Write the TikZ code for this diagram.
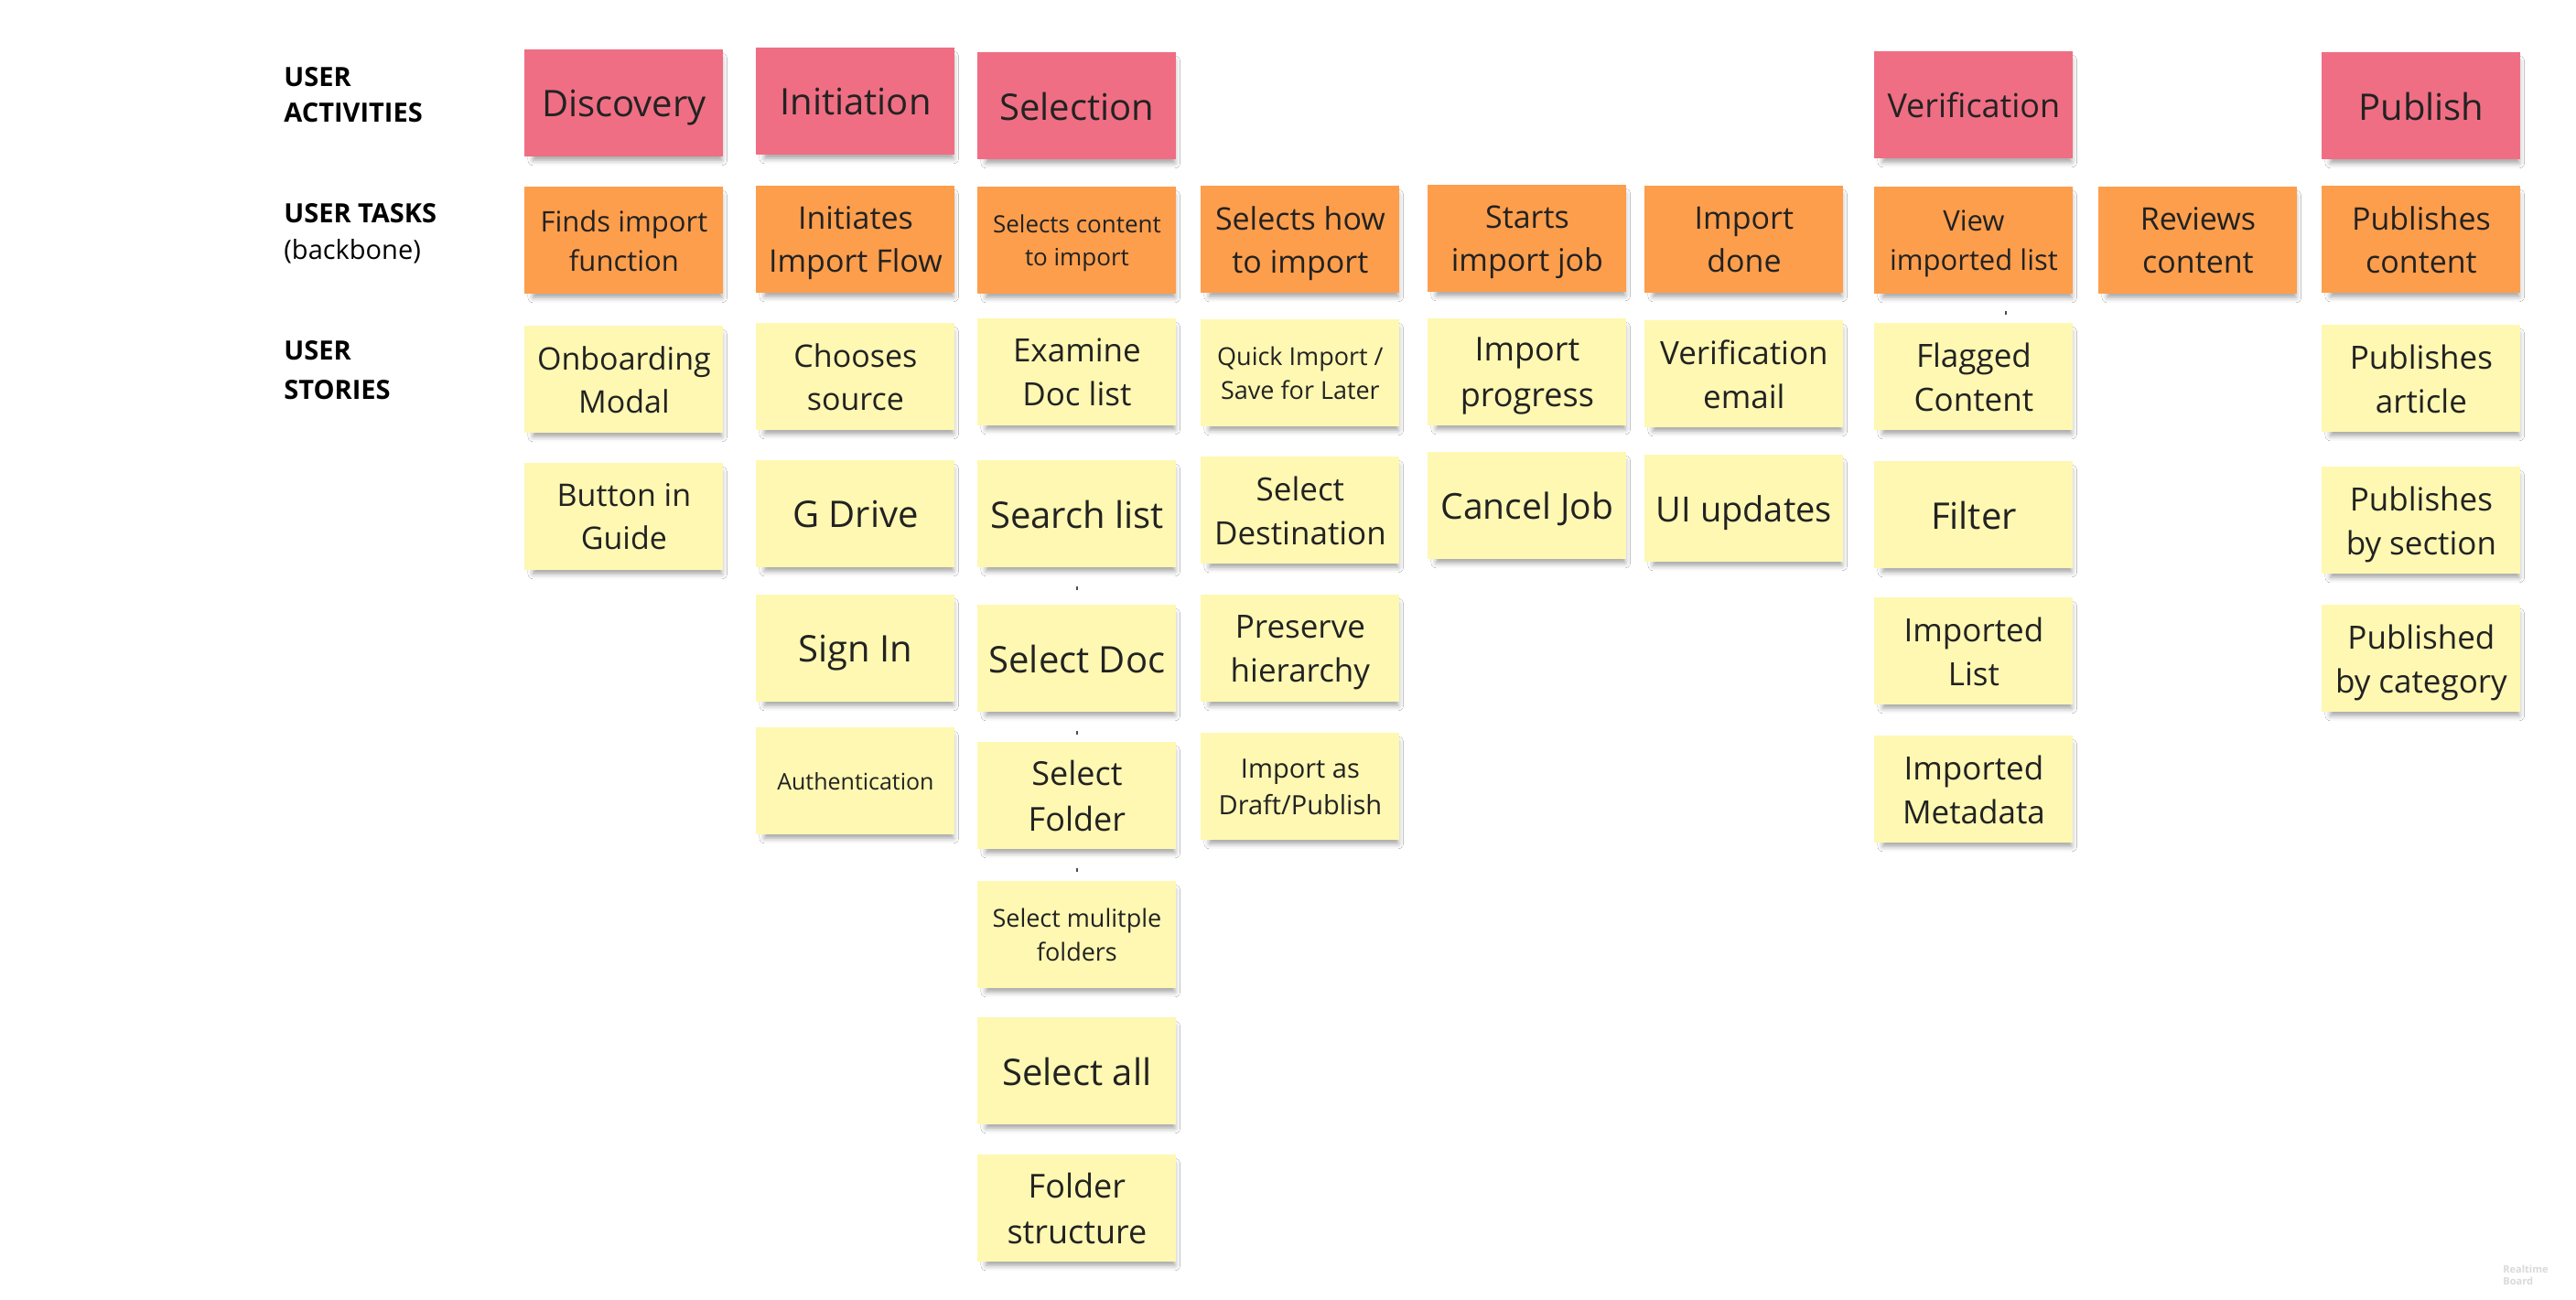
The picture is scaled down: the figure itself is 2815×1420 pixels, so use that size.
\documentclass[tikz,border=0pt]{standalone}
\usepackage{fontspec}
\setmainfont{Open Sans}
\usetikzlibrary{shadows.blur}
\definecolor{pinknote}{RGB}{239,110,131}
\definecolor{orangenote}{RGB}{253,158,76}
\definecolor{yellownote}{RGB}{254,248,178}
\definecolor{notetext}{RGB}{34,34,34}
\newcommand\fz[1]{\fontsize{#1}{\fpeval{#1*1.38}}\selectfont}
\tikzset{
  note/.style={anchor=north west, minimum width=108.5pt, minimum height=58.5pt,
    inner sep=0pt, align=center, text=notetext, text depth=0pt,
    blur shadow={shadow xshift=2pt, shadow yshift=-3.5pt, shadow scale=0.95,
      shadow opacity=38, shadow blur radius=3pt}},
  act/.style={note, fill=pinknote},
  task/.style={note, fill=orangenote},
  story/.style={note, fill=yellownote},
  rowlabel/.style={anchor=base west, inner sep=0pt, text=black, font=\fz{14.5}\bfseries},
  tick/.style={draw=black!70, line width=0.6pt}
}
\begin{document}
\begin{tikzpicture}[x=0.5pt,y=-0.5pt]
\useasboundingbox[fill=white] (0,0) rectangle (2815,1420);
% row labels
\node[rowlabel] (l1a) at (310,94) {USER};
\node[rowlabel] (l1b) at (310,133) {ACTIVITIES};
\node[rowlabel] (l2a) at (310,243) {USER TASKS};
\node[rowlabel, font=\fz{14.5}] (l2b) at (310,283) {(backbone)};
\node[rowlabel] (l3a) at (310,393) {USER};
\node[rowlabel] (l3b) at (310,436) {STORIES};
% activities
\node[act, font=\fz{20}] (a1) at (573,54) {Discovery};
\node[act, font=\fz{20}] (a2) at (826,52) {Initiation};
\node[act, font=\fz{20}] (a3) at (1068,57) {Selection};
\node[act, font=\fz{18}] (a7) at (2048,56) {Verification};
\node[act, font=\fz{20}] (a9) at (2537,57) {Publish};
% tasks
\node[task, font=\fz{15.5}] (t1) at (573,204) {Finds import\\function};
\node[task, font=\fz{17}] (t2) at (826,203) {Initiates\\Import Flow};
\node[task, font=\fz{13}] (t3) at (1068,204) {Selects content\\to import};
\node[task, font=\fz{17}] (t4) at (1312,203) {Selects how\\to import};
\node[task, font=\fz{17}] (t5) at (1560,202) {Starts\\import job};
\node[task, font=\fz{17}] (t6) at (1797,203) {Import\\done};
\node[task, font=\fz{15.5}] (t7) at (2048,204) {View\\imported list};
\node[task, font=\fz{17}] (t8) at (2293,204) {Reviews\\content};
\node[task, font=\fz{17}] (t9) at (2537,203) {Publishes\\content};
% stories col 1
\node[story, font=\fz{17}] (s11) at (573,356) {Onboarding\\Modal};
\node[story, font=\fz{17}] (s12) at (573,506) {Button in\\Guide};
% col 2
\node[story, font=\fz{17}] (s21) at (826,353) {Chooses\\source};
\node[story, font=\fz{20}] (s22) at (826,503) {G Drive};
\node[story, font=\fz{20}] (s23) at (826,650) {Sign In};
\node[story, font=\fz{12.5}] (s24) at (826,795) {Authentication};
% col 3
\node[story, font=\fz{17.5}] (s31) at (1068,348) {Examine\\Doc list};
\node[story, font=\fz{20}] (s32) at (1068,503) {Search list};
\node[story, font=\fz{20}] (s33) at (1068,661) {Select Doc};
\node[story, font=\fz{18}] (s34) at (1068,811) {Select\\Folder};
\node[story, font=\fz{13.5}] (s35) at (1068,963) {Select mulitple\\folders};
\node[story, font=\fz{20}] (s36) at (1068,1112) {Select all};
\node[story, font=\fz{18}] (s37) at (1068,1262) {Folder\\structure};
% col 4
\node[story, font=\fz{13.5}] (s41) at (1312,349) {Quick Import /\\Save for Later};
\node[story, font=\fz{17.5}] (s42) at (1312,499) {Select\\Destination};
\node[story, font=\fz{17.5}] (s43) at (1312,650) {Preserve\\hierarchy};
\node[story, font=\fz{14.5}] (s44) at (1312,801) {Import as\\Draft/Publish};
% col 5
\node[story, font=\fz{18}] (s51) at (1560,348) {Import\\progress};
\node[story, font=\fz{19.5}] (s52) at (1560,494) {Cancel Job};
% col 6
\node[story, font=\fz{17.5}] (s61) at (1797,350) {Verification\\email};
\node[story, font=\fz{19}] (s62) at (1797,497) {UI updates};
% col 7
\node[story, font=\fz{17.5}] (s71) at (2048,353) {Flagged\\Content};
\node[story, font=\fz{20}] (s72) at (2048,504) {Filter};
\node[story, font=\fz{17.5}] (s73) at (2048,653) {Imported\\List};
\node[story, font=\fz{17.5}] (s74) at (2048,804) {Imported\\Metadata};
% col 9
\node[story, font=\fz{17.5}] (s91) at (2537,355) {Publishes\\article};
\node[story, font=\fz{17.5}] (s92) at (2537,510) {Publishes\\by section};
\node[story, font=\fz{17.5}] (s93) at (2537,661) {Published\\by category};
% tiny marks
\draw[tick] (1177,641) -- (1177,645);
\draw[tick] (1177,799) -- (1177,803);
\draw[tick] (1177,949) -- (1177,953);
\draw[tick] (2192,340) -- (2192,344);
% watermark
\node[anchor=base west, inner sep=0pt, text=black!15, font=\fontsize{5.5}{6.5}\selectfont\bfseries] (wm1) at (2735,1391) {Realtime};
\node[anchor=base west, inner sep=0pt, text=black!15, font=\fontsize{5.5}{6.5}\selectfont\bfseries] (wm2) at (2735,1404) {Board};
\end{tikzpicture}
\end{document}
